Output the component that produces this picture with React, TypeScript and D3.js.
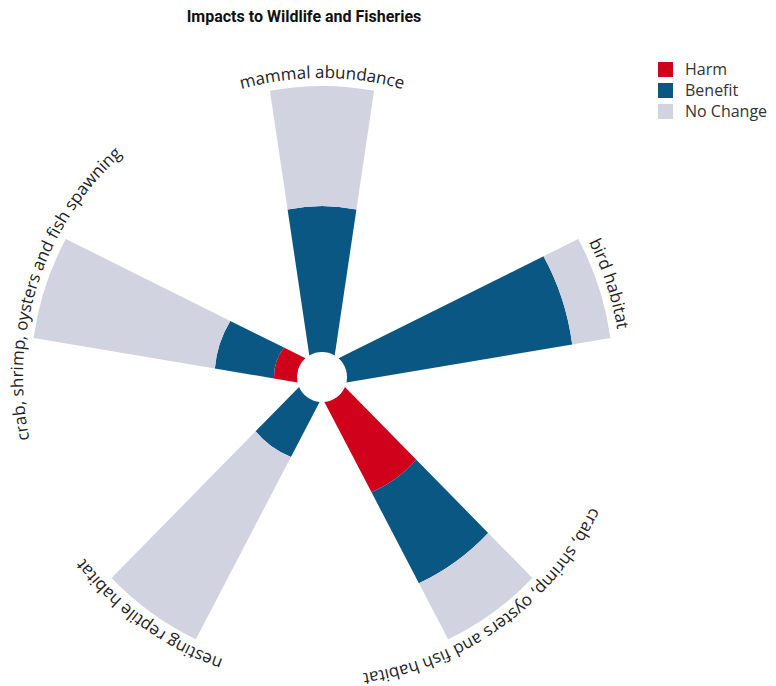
import { useEffect, useRef } from 'react';
import * as d3 from 'd3';

// Catégories et valeurs (en %)
const categories = [
  "mammal abundance",
  "bird habitat",
  "crab, shrimp, oysters and fish habitat",
  "nesting reptile habitat",
  "crab, shrimp, oysters and fish spawning"
];
const harm = [0, 0, 18, 0, 2];
const benefit = [34, 75, 43, 8, 11];
const noChange = [66, 25, 39, 92, 87];

const keys = ["Harm", "Benefit", "No Change"];
const colors = ["#d0021b", "#0b5784", "#d1d4e0"];

export default function App() {
  const svgRef = useRef<SVGSVGElement>(null);

  useEffect(() => {
    const width = 776;
    const height = 686;
    const cx = 322;
    const cy = 377;
    const innerRadius = 25;
    const outerRadius = 291;
    const labelRadius = 299;
    const sideOffset = 9.4; // les côtés des barres sont décalés, pas radiaux

    const svg = d3.select(svgRef.current);
    svg.selectAll("*").remove();
    svg.attr("width", width).attr("height", height);

    const rows = categories.map((c, i) => ({
      category: c,
      "Harm": harm[i],
      "Benefit": benefit[i],
      "No Change": noChange[i]
    }));

    const series = d3.stack<any>().keys(keys)(rows);

    const x = d3.scaleBand()
      .domain(categories)
      .range([-Math.PI / 5, 2 * Math.PI - Math.PI / 5])
      .paddingInner(0.765)
      .paddingOuter(0.3825);

    const y = d3.scaleRadial()
      .domain([0, 100])
      .range([innerRadius, outerRadius]);

    const color = d3.scaleOrdinal<string>().domain(keys).range(colors);

    // angle mesuré depuis midi, sens horaire
    const pt = (r: number, a: number): [number, number] => [r * Math.sin(a), -r * Math.cos(a)];
    const screen = (a: number) => a - Math.PI / 2;

    function segment(d: any) {
      const r0 = y(d[0]);
      const r1 = y(d[1]);
      if (r1 - r0 < 0.01) return "";
      const a0 = x(d.data.category)!;
      const a1 = a0 + x.bandwidth();
      const d0 = Math.asin(Math.min(1, sideOffset / r0));
      const d1 = Math.asin(Math.min(1, sideOffset / r1));
      const p = d3.path();
      p.moveTo(...pt(r0, a0 - d0));
      p.lineTo(...pt(r1, a0 - d1));
      p.arc(0, 0, r1, screen(a0 - d1), screen(a1 + d1), false);
      p.lineTo(...pt(r0, a1 + d0));
      p.arc(0, 0, r0, screen(a1 + d0), screen(a0 - d0), true);
      p.closePath();
      return p.toString();
    }

    const g = svg.append("g").attr("transform", `translate(${cx},${cy})`);

    // Barres empilées
    g.selectAll("g.series")
      .data(series)
      .join("g")
        .attr("class", "series")
        .attr("fill", d => color(d.key))
      .selectAll("path")
      .data(d => d)
      .join("path")
        .attr("d", segment);

    // Étiquettes courbes
    const defs = svg.append("defs");
    categories.forEach((c, i) => {
      const mid = x(c)! + x.bandwidth() / 2;
      const a0 = mid - 1.5;
      const a1 = mid + 1.5;
      const R = labelRadius;
      defs.append("path")
        .attr("id", `label-path-${i}`)
        .attr("d", `M${R * Math.sin(a0)},${-R * Math.cos(a0)} A${R},${R} 0 0 1 ${R * Math.sin(a1)},${-R * Math.cos(a1)}`);
    });

    const labels = g.append("g")
      .style("font-family", "'Open Sans', sans-serif")
      .style("font-size", "17px")
      .attr("fill", "#222");

    categories.forEach((c, i) => {
      labels.append("text")
        .append("textPath")
        .attr("href", `#label-path-${i}`)
        .attr("startOffset", "50%")
        .attr("text-anchor", "middle")
        .text(c);
    });

    // Titre
    svg.append("text")
      .attr("x", 304)
      .attr("y", 22)
      .attr("text-anchor", "middle")
      .style("font-family", "Roboto, sans-serif")
      .style("font-size", "16px")
      .style("font-weight", "bold")
      .attr("fill", "#111")
      .text("Impacts to Wildlife and Fisheries");

    // Légende
    const legend = svg.append("g")
      .attr("transform", "translate(658, 62)");

    keys.forEach((k, i) => {
      const row = legend.append("g").attr("transform", `translate(0, ${i * 21})`);
      row.append("rect")
        .attr("width", 15)
        .attr("height", 15)
        .attr("fill", color(k));
      row.append("text")
        .attr("x", 27)
        .attr("y", 13)
        .style("font-family", "'Open Sans', sans-serif")
        .style("font-size", "16px")
        .attr("fill", "#333")
        .text(k);
    });
  }, []);

  return (
    <svg ref={svgRef} style={{ position: "absolute", left: 0, top: 0 }}></svg>
  );
}
